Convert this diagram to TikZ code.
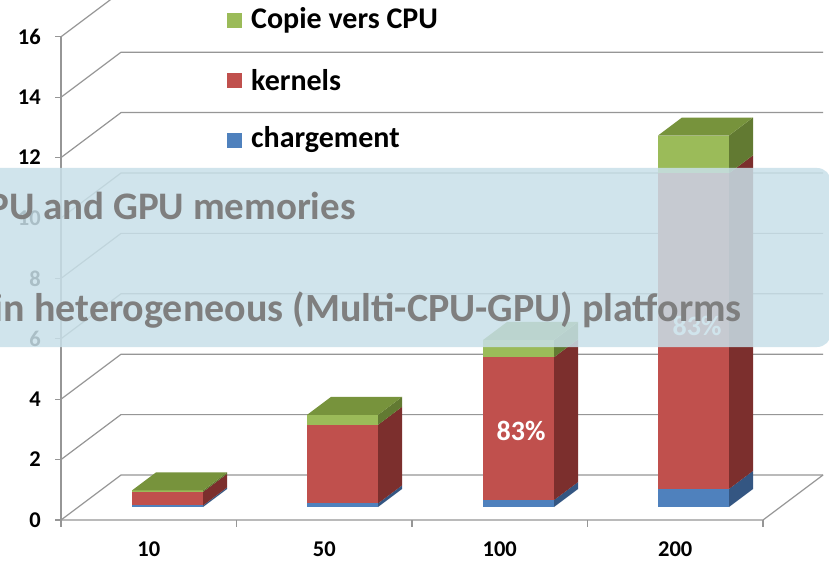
\documentclass[tikz,border=0pt]{standalone}
\usepackage{fontspec}
\setmainfont{Carlito}
\definecolor{gfront}{RGB}{155,187,89}
\definecolor{gtop}{RGB}{119,147,60}
\definecolor{gside}{RGB}{98,122,50}
\definecolor{rfront}{RGB}{192,80,77}
\definecolor{rside}{RGB}{124,47,45}
\definecolor{bfront}{RGB}{79,129,189}
\definecolor{bside}{RGB}{52,86,130}
\definecolor{gridgray}{RGB}{150,150,150}
\definecolor{panelblue}{RGB}{200,224,233}
\definecolor{paneltext}{RGB}{127,127,127}
% one stacked segment of a 3-D bar: left x, from value, to value, front colour, side colour
\newcommand\chartseg[5]{%
  \fill[#4] (#1,{507-30.2*#2}) rectangle ({#1+71},{507-30.2*#3});
  \fill[#5] ({#1+71},{507-30.2*#2}) -- ({#1+95},{489-30.2*#2})
            -- ({#1+95},{489-30.2*#3}) -- ({#1+71},{507-30.2*#3}) -- cycle;}
% lid of a 3-D bar at the given total value
\newcommand\chartlid[2]{%
  \fill[gtop] (#1,{507-30.2*#2}) -- ({#1+24},{489-30.2*#2})
            -- ({#1+95},{489-30.2*#2}) -- ({#1+71},{507-30.2*#2}) -- cycle;}
\tikzset{
  gridline/.style={draw=gridgray, line width=1.2pt},
  ticklbl/.style={font=\bfseries\fontsize{22.5}{24}\selectfont, inner sep=0pt},
  legendlbl/.style={font=\bfseries\fontsize{30}{32}\selectfont, inner sep=0pt, anchor=west},
  datalbl/.style={font=\bfseries\fontsize{28}{30}\selectfont, text=white, inner sep=0pt},
  paneltxt/.style={font=\bfseries\fontsize{40}{44}\selectfont, text=paneltext, inner sep=0pt, anchor=base east},
}
\begin{document}
\begin{tikzpicture}[x=1pt,y=-1pt]
\useasboundingbox (0,0) rectangle (829,561);
\clip (0,0) rectangle (829,561);
\fill[white] (0,0) rectangle (829,561);

% back wall and side wall gridlines
\foreach \v in {0,2,...,16}
  \draw[gridline] (61,{520-30.2*\v}) -- (121,{475-30.2*\v}) -- (823,{475-30.2*\v});
% floor front edge and right edge
\draw[gridline] (61,520) -- (763,520) -- (823,475);
% value axis with ticks
\draw[gridline] (61,520) -- (61,{520-30.2*16});
\foreach \v in {0,2,...,16} {
  \draw[gridline] (55,{520-30.2*\v}) -- (61,{520-30.2*\v});
  \node[ticklbl, anchor=east] at (41,{520-30.2*\v}) {\v};
}
% category ticks and labels
\foreach \x in {61,236.5,412,587.5,763}
  \draw[gridline] (\x,520) -- (\x,527);
\foreach \x/\t in {148.75/10,324.25/50,499.75/100,675.25/200}
  \node[ticklbl] at (\x,549) {\t};

% stacked bars: chargement, kernels, copie vers CPU
\chartseg{132}{0}{0.05}{bfront}{bside}
\chartseg{132}{0.05}{0.5}{rfront}{rside}
\chartseg{132}{0.5}{0.55}{gfront}{gside}
\chartlid{132}{0.55}

\chartseg{307}{0}{0.12}{bfront}{bside}
\chartseg{307}{0.12}{2.72}{rfront}{rside}
\chartseg{307}{2.72}{3.05}{gfront}{gside}
\chartlid{307}{3.05}

\chartseg{483}{0}{0.23}{bfront}{bside}
\chartseg{483}{0.23}{4.96}{rfront}{rside}
\chartseg{483}{4.96}{5.53}{gfront}{gside}
\chartlid{483}{5.53}

\chartseg{658}{0}{0.6}{bfront}{bside}
\chartseg{658}{0.6}{11.05}{rfront}{rside}
\chartseg{658}{11.05}{12.3}{gfront}{gside}
\chartlid{658}{12.3}

\node[datalbl] (pct100) at (521,431) {83\%};
\node[datalbl] (pct200) at (697,326) {83\%};

% legend
\fill[gfront] (227,13) rectangle (242,28);
\node[legendlbl] (lg1) at (251,20) {Copie vers CPU};
\fill[rfront] (227,73) rectangle (242,88);
\node[legendlbl] (lg2) at (251,80) {kernels};
\fill[bfront] (227,133) rectangle (242,148);
\node[legendlbl] (lg3) at (251,140) {chargement};

% translucent caption panel laid over the chart
\fill[panelblue, fill opacity=0.85, rounded corners=14] (-40,168) rectangle (831,347);
\node[paneltxt, font=\bfseries\fontsize{39}{44}\selectfont] (cap1) at (356,220) {PU and GPU memories};
\node[paneltxt] (cap2) at (742,321) {in heterogeneous (Multi-CPU-GPU) platforms};
\end{tikzpicture}
\end{document}
